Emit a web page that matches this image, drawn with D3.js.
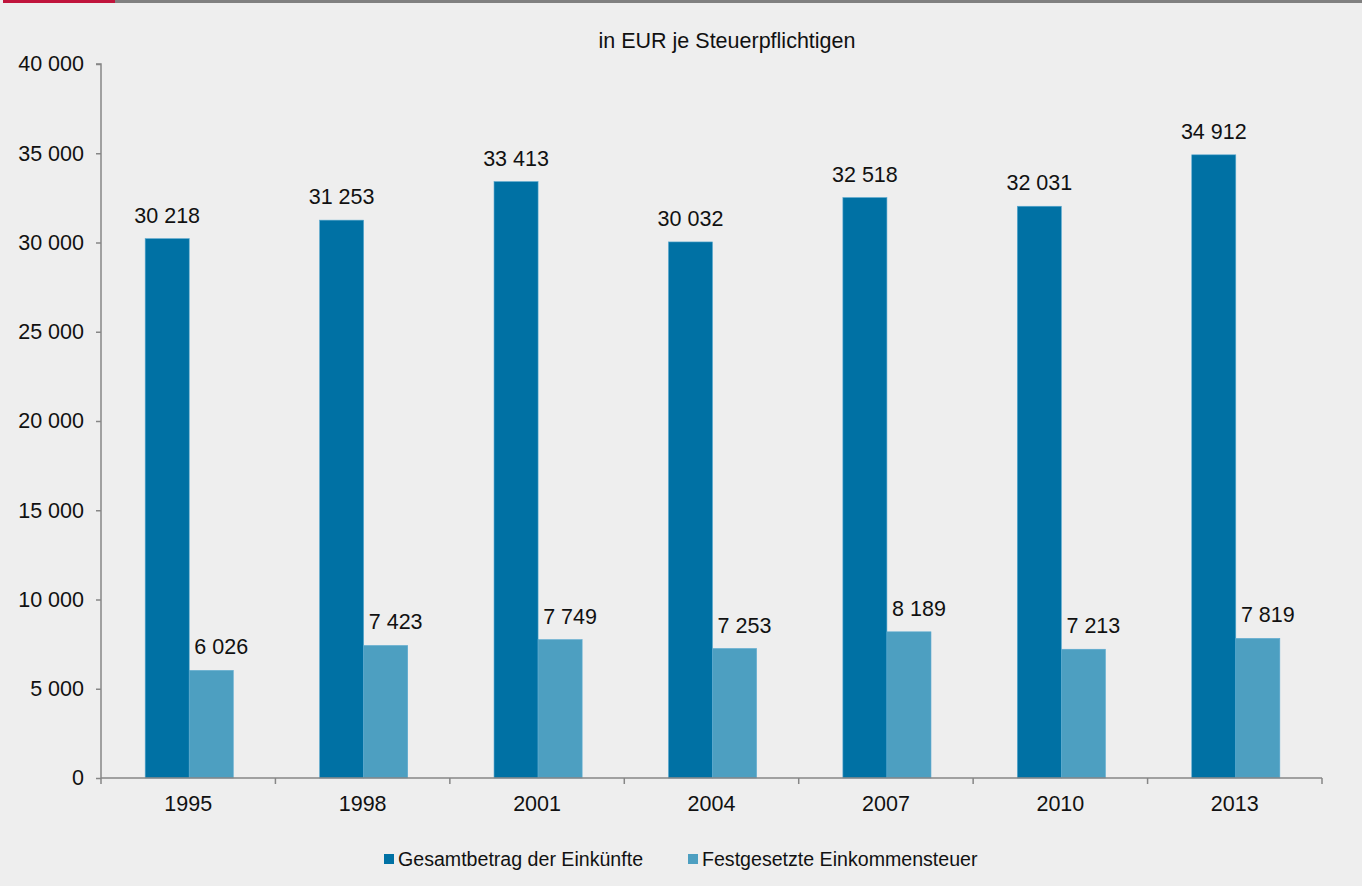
<!DOCTYPE html>
<html><head><meta charset="utf-8">
<script src="https://cdn.jsdelivr.net/npm/d3@7"></script>
<style>
html,body{margin:0;padding:0;background:#eeeeee;}
svg{display:block;}
text{font-family:"Liberation Sans",Arial,Helvetica,sans-serif;fill:#111;}
</style></head>
<body>
<svg id="chart" width="1362" height="886"></svg>
<script>
const years = ["1995","1998","2001","2004","2007","2010","2013"];
const gesamtbetrag = [30218,31253,33413,30032,32518,32031,34912];
const einkommensteuer = [6026,7423,7749,7253,8189,7213,7819];
const seriesNames = ["Gesamtbetrag der Einkünfte","Festgesetzte Einkommensteuer"];
const seriesColors = ["#0071a4","#4d9fc1"];
const yTicks = [0,5000,10000,15000,20000,25000,30000,35000,40000];
const title = "in EUR je Steuerpflichtigen";

(function(){
const FS = 21.5;
const svg = d3.select("#chart");
const fmt = v => d3.format(",")(v).replace(/,/g," ");

svg.append("rect").attr("x",0).attr("y",0).attr("width",1362).attr("height",886).attr("fill","#eeeeee");
svg.append("rect").attr("x",3).attr("y",0).attr("width",112).attr("height",3).attr("fill","#c0143c");
svg.append("rect").attr("x",115).attr("y",0).attr("width",1247).attr("height",3).attr("fill","#808080");

const pL=101, pR=1322, pT=64, pB=778;
const x = d3.scaleBand().domain(years).range([pL,pR]).paddingInner(0).paddingOuter(0);
const y = d3.scaleLinear().domain([0,40000]).range([pB,pT]);
const inner = d3.scaleBand().domain([0,1]).range([0,x.bandwidth()]).paddingInner(0).paddingOuter(0.98);
const labelShift = [0,10];

svg.append("text").attr("x",727).attr("y",48).attr("text-anchor","middle").attr("font-size",FS).text(title);

const data = [gesamtbetrag, einkommensteuer];
data.forEach((vals,si)=>{
  const g = svg.append("g");
  g.selectAll("rect").data(vals).join("rect")
    .attr("x",(d,i)=>x(years[i])+inner(si)+1)
    .attr("y",d=>y(d))
    .attr("width",inner.bandwidth())
    .attr("height",d=>pB-y(d))
    .attr("fill",seriesColors[si])
    .attr("stroke","#5aa9cf").attr("stroke-width",0.6);
  g.selectAll("text").data(vals).join("text")
    .attr("x",(d,i)=>x(years[i])+inner(si)+1+inner.bandwidth()/2+labelShift[si])
    .attr("y",d=>y(d)-16)
    .attr("text-anchor","middle").attr("font-size",FS)
    .text(d=>fmt(d));
});

const yAxis = svg.append("g").attr("transform",`translate(${pL},0)`)
  .call(d3.axisLeft(y).tickValues(yTicks).tickSize(5).tickPadding(12).tickFormat(fmt));
yAxis.selectAll("text").attr("font-size",FS).style("font-family","'Liberation Sans',Arial,sans-serif").attr("fill","#111");
yAxis.select(".domain").attr("stroke","#868686").attr("stroke-width",1.5).attr("d",`M-5,${pT}H0V${pB}`);
yAxis.selectAll(".tick line").attr("stroke","#868686").attr("stroke-width",1.5);

const xAxis = svg.append("g").attr("transform",`translate(0,${pB})`)
  .call(d3.axisBottom(x).tickSize(0).tickPadding(18));
xAxis.selectAll("text").attr("font-size",FS).style("font-family","'Liberation Sans',Arial,sans-serif").attr("fill","#111");
xAxis.select(".domain").attr("stroke","#868686").attr("stroke-width",1.5).attr("d",`M${pL},0H${pR}`);
const bounds = years.map(yr=>x(yr)).concat([pR]);
xAxis.selectAll(".bt").data(bounds).join("line")
  .attr("x1",d=>d).attr("x2",d=>d).attr("y1",0).attr("y2",6)
  .attr("stroke","#868686").attr("stroke-width",1.5);

const legX = [384,688];
seriesNames.forEach((n,i)=>{
  svg.append("rect").attr("x",legX[i]).attr("y",854).attr("width",10).attr("height",10).attr("fill",seriesColors[i]);
  svg.append("text").attr("x",legX[i]+14).attr("y",866).attr("font-size",19.6).text(n);
});
})();
</script>
</body></html>
